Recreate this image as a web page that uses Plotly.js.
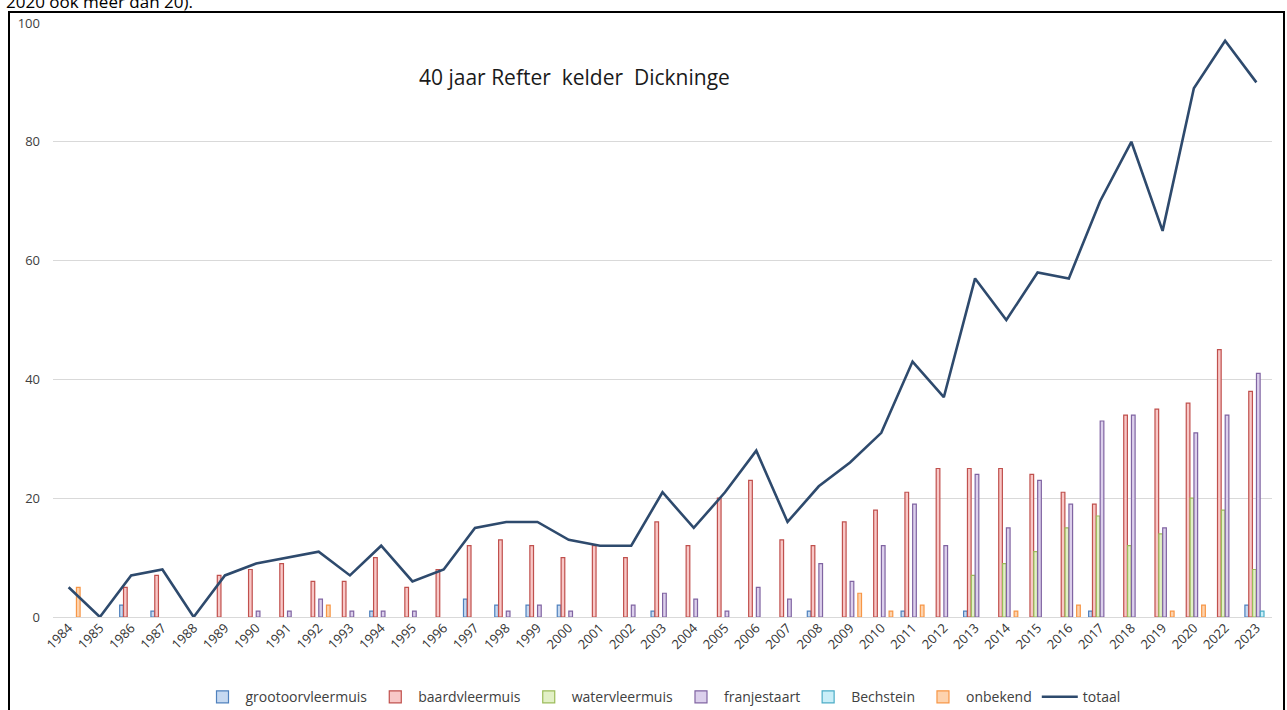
<!DOCTYPE html>
<html>
<head>
<meta charset="utf-8">
<script src="https://cdn.plot.ly/plotly-3.0.1.min.js"></script>
<style>
  html, body { margin: 0; padding: 0; background: #fff; overflow: hidden; }
  #chart { position: absolute; left: 0; top: 0; width: 1287px; height: 710px; }
  #frame { position: absolute; left: 8px; top: 11px; width: 1273px; height: 720px; border: 2px solid #000; pointer-events: none; }
  #toptext { position: absolute; left: 6px; top: -10px; font-family: "Open Sans", sans-serif; font-size: 17px; color: #000; white-space: nowrap; }
</style>
</head>
<body>
<div id="chart"></div>
<div id="frame"></div>
<div id="toptext">2020 ook meer dan 20).</div>
<script>
const years = ["1984","1985","1986","1987","1988","1989","1990","1991","1992","1993","1994","1995","1996","1997","1998","1999","2000","2001","2002","2003","2004","2005","2006","2007","2008","2009","2010","2011","2012","2013","2014","2015","2016","2017","2018","2019","2020","2022","2023"];

const grootoorvleermuis = [0,0,2,1,0,0,0,0,0,0,1,0,0,3,2,2,2,0,0,1,0,0,0,0,1,0,0,1,0,1,0,0,0,1,0,0,0,0,2];
const baardvleermuis    = [0,0,5,7,0,7,8,9,6,6,10,5,8,12,13,12,10,12,10,16,12,20,23,13,12,16,18,21,25,25,25,24,21,19,34,35,36,45,38];
const watervleermuis    = [0,0,0,0,0,0,0,0,0,0,0,0,0,0,0,0,0,0,0,0,0,0,0,0,0,0,0,0,0,7,9,11,15,17,12,14,20,18,8];
const franjestaart      = [0,0,0,0,0,0,1,1,3,1,1,1,0,0,1,2,1,0,2,4,3,1,5,3,9,6,12,19,12,24,15,23,19,33,34,15,31,34,41];
const bechstein         = [0,0,0,0,0,0,0,0,0,0,0,0,0,0,0,0,0,0,0,0,0,0,0,0,0,0,0,0,0,0,0,0,0,0,0,0,0,0,1];
const onbekend          = [5,0,0,0,0,0,0,0,2,0,0,0,0,0,0,0,0,0,0,0,0,0,0,0,0,4,1,2,0,0,1,0,2,0,0,1,2,0,0];
const totaal            = [5,0,7,8,0,7,9,10,11,7,12,6,8,15,16,16,13,12,12,21,15,21,28,16,22,26,31,43,37,57,50,58,57,70,80,65,89,97,90];

const seriesNames = ["grootoorvleermuis","baardvleermuis","watervleermuis","franjestaart","Bechstein","onbekend"];
const seriesData = [grootoorvleermuis, baardvleermuis, watervleermuis, franjestaart, bechstein, onbekend];
const fills = ["#c6d9f1","#f8c8c7","#e2f0c6","#dcd0ec","#c9eef8","#fdd3ae"];
const lines = ["#4f81bd","#c0504d","#9bbb59","#8064a2","#4bacc6","#f79646"];

const traces = seriesNames.map((n, i) => ({
  type: "bar",
  name: n,
  x: years,
  y: seriesData[i].map(v => v === 0 ? null : v),
  marker: { color: fills[i], line: { color: lines[i], width: 1.2 } },
  hoverinfo: "x+y+name"
}));

traces.push({
  type: "scatter",
  mode: "lines",
  name: "totaal",
  x: years,
  y: totaal,
  line: { color: "#2e4a6d", width: 2.6 }
});

const layout = {
  width: 1287,
  height: 710,
  margin: { l: 53, r: 15, t: 23, b: 93 },
  paper_bgcolor: "#ffffff",
  plot_bgcolor: "#ffffff",
  barmode: "group",
  bargap: 0.26,
  bargroupgap: 0.05,
  font: { family: "Open Sans, sans-serif", size: 12, color: "#404040" },
  xaxis: {
    type: "category",
    tickangle: -45,
    tickfont: { size: 13, color: "#333333" },
    showgrid: false,
    showline: false,
    ticks: "",
    zeroline: false,
    automargin: false
  },
  yaxis: {
    range: [0, 100],
    tickvals: [0, 20, 40, 60, 80, 100],
    tickfont: { size: 13, color: "#404040" },
    showgrid: true,
    gridcolor: "#d9d9d9",
    gridwidth: 1,
    zeroline: true,
    zerolinecolor: "#d9d9d9",
    zerolinewidth: 1,
    showline: false,
    ticks: "",
    ticklabelstandoff: 12,
    automargin: false,
    fixedrange: true
  },
  showlegend: true,
  legend: {
    orientation: "h",
    x: 0.5,
    xanchor: "center",
    yref: "container",
    y: 0.018,
    yanchor: "middle",
    font: { size: 14, color: "#404040" },
    itemwidth: 36,
    tracegroupgap: 0,
    traceorder: "normal"
  },
  annotations: [{
    text: "40 jaar Refter  kelder  Dickninge",
    xref: "paper", yref: "paper",
    x: 0.428, y: 0.909,
    xanchor: "center", yanchor: "middle",
    showarrow: false,
    font: { family: "Open Sans, sans-serif", size: 21, color: "#1a1a1a" }
  }]
};

Plotly.newPlot("chart", traces, layout, { displayModeBar: false, staticPlot: true });
</script>
</body>
</html>
